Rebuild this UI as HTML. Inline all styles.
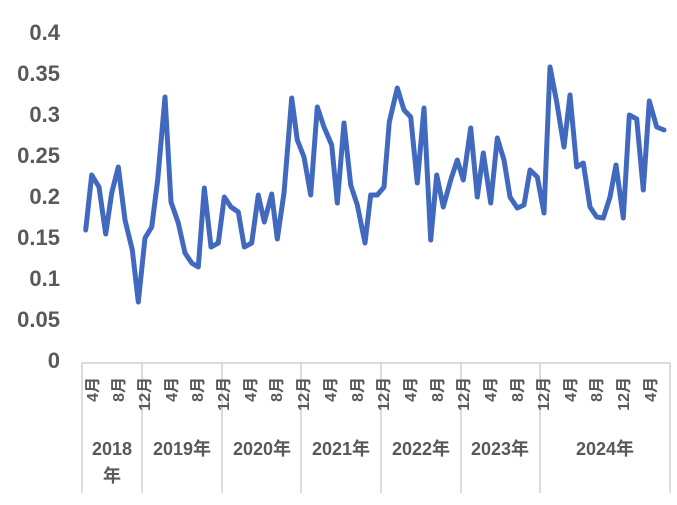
<!DOCTYPE html>
<html><head><meta charset="utf-8"><style>
body{margin:0;background:#fff}
svg text{font-family:"Liberation Sans","Noto Sans CJK JP",sans-serif;fill:#595959}
</style></head><body>
<svg width="677" height="500" xmlns="http://www.w3.org/2000/svg">
<g font-size="22" text-anchor="end" font-weight="bold">
<text x="60" y="40">0.4</text>
<text x="60" y="81">0.35</text>
<text x="60" y="122">0.3</text>
<text x="60" y="163">0.25</text>
<text x="60" y="204">0.2</text>
<text x="60" y="245">0.15</text>
<text x="60" y="286">0.1</text>
<text x="60" y="327">0.05</text>
<text x="60" y="368">0</text>
</g>
<g stroke="#d0d0d0" stroke-width="1.5" fill="none">
<line x1="82" y1="363" x2="670" y2="363"/>
<line x1="82" y1="363" x2="82" y2="493"/>
<line x1="142" y1="363" x2="142" y2="493"/>
<line x1="222" y1="363" x2="222" y2="493"/>
<line x1="301" y1="363" x2="301" y2="493"/>
<line x1="381" y1="363" x2="381" y2="493"/>
<line x1="461" y1="363" x2="461" y2="493"/>
<line x1="540" y1="363" x2="540" y2="493"/>
<line x1="670" y1="363" x2="670" y2="493"/>
</g>
<g font-size="16" font-weight="bold" text-anchor="end">
<text transform="translate(98,377) rotate(-90)">4月</text>
<text transform="translate(124,377) rotate(-90)">8月</text>
<text transform="translate(150,377) rotate(-90)">12月</text>
<text transform="translate(177,377) rotate(-90)">4月</text>
<text transform="translate(203,377) rotate(-90)">8月</text>
<text transform="translate(229,377) rotate(-90)">12月</text>
<text transform="translate(256,377) rotate(-90)">4月</text>
<text transform="translate(282,377) rotate(-90)">8月</text>
<text transform="translate(309,377) rotate(-90)">12月</text>
<text transform="translate(336,377) rotate(-90)">4月</text>
<text transform="translate(363,377) rotate(-90)">8月</text>
<text transform="translate(389,377) rotate(-90)">12月</text>
<text transform="translate(416,377) rotate(-90)">4月</text>
<text transform="translate(443,377) rotate(-90)">8月</text>
<text transform="translate(469,377) rotate(-90)">12月</text>
<text transform="translate(496,377) rotate(-90)">4月</text>
<text transform="translate(523,377) rotate(-90)">8月</text>
<text transform="translate(549,377) rotate(-90)">12月</text>
<text transform="translate(576,377) rotate(-90)">4月</text>
<text transform="translate(602,377) rotate(-90)">8月</text>
<text transform="translate(629,377) rotate(-90)">12月</text>
<text transform="translate(656,377) rotate(-90)">4月</text>
</g>
<g font-size="18" font-weight="bold" text-anchor="middle">
<text x="112" y="455">2018</text>
<text x="112" y="482">年</text>
<text x="182" y="455">2019年</text>
<text x="262" y="455">2020年</text>
<text x="341" y="455">2021年</text>
<text x="421" y="455">2022年</text>
<text x="500" y="455">2023年</text>
<text x="605" y="455">2024年</text>
</g>
<polyline fill="none" stroke="#4169bf" stroke-width="5" stroke-linejoin="round" stroke-linecap="round" points="85.7,230 91.7,175 99,187 105.7,234 111.7,193 118.3,167 125,220 132.3,250 138.3,302 145,238 151.7,227 157.7,180 165,97 171,202 178.3,223 185,253 191.7,263 198.3,267 204.3,188 211,247 218.3,243 224.3,197 231,207 238.3,212 244.3,247 251.7,243 258.3,195 264.3,222 271.7,194 277.3,239 284,193 291.7,98 297.3,140 304,157 310.7,195 317.3,107 324,127 331.7,145 337.3,203 344,123 350.7,185 357.3,205 365,243 370.7,195 377.3,195 384,187 389.3,122 397.3,88 404,110 410.7,117 417.3,183 424,108 430.7,240 436.7,175 443.3,207 450.7,180 457.3,160 463.3,180 470.7,128 477.3,197 483.3,153 490.7,203 497.3,138 504,160 510,197 517.3,208 524,205 530,170 537.3,177 544,213 550,67 556.7,102 564,147 570,95 576.7,167 583.3,163 590,207 596.7,217 603.3,218 610,197 616,165 623.3,218 629.3,115 636.7,119 643.3,190 649.3,101 656.7,127 664,130"/>
</svg>
</body></html>
